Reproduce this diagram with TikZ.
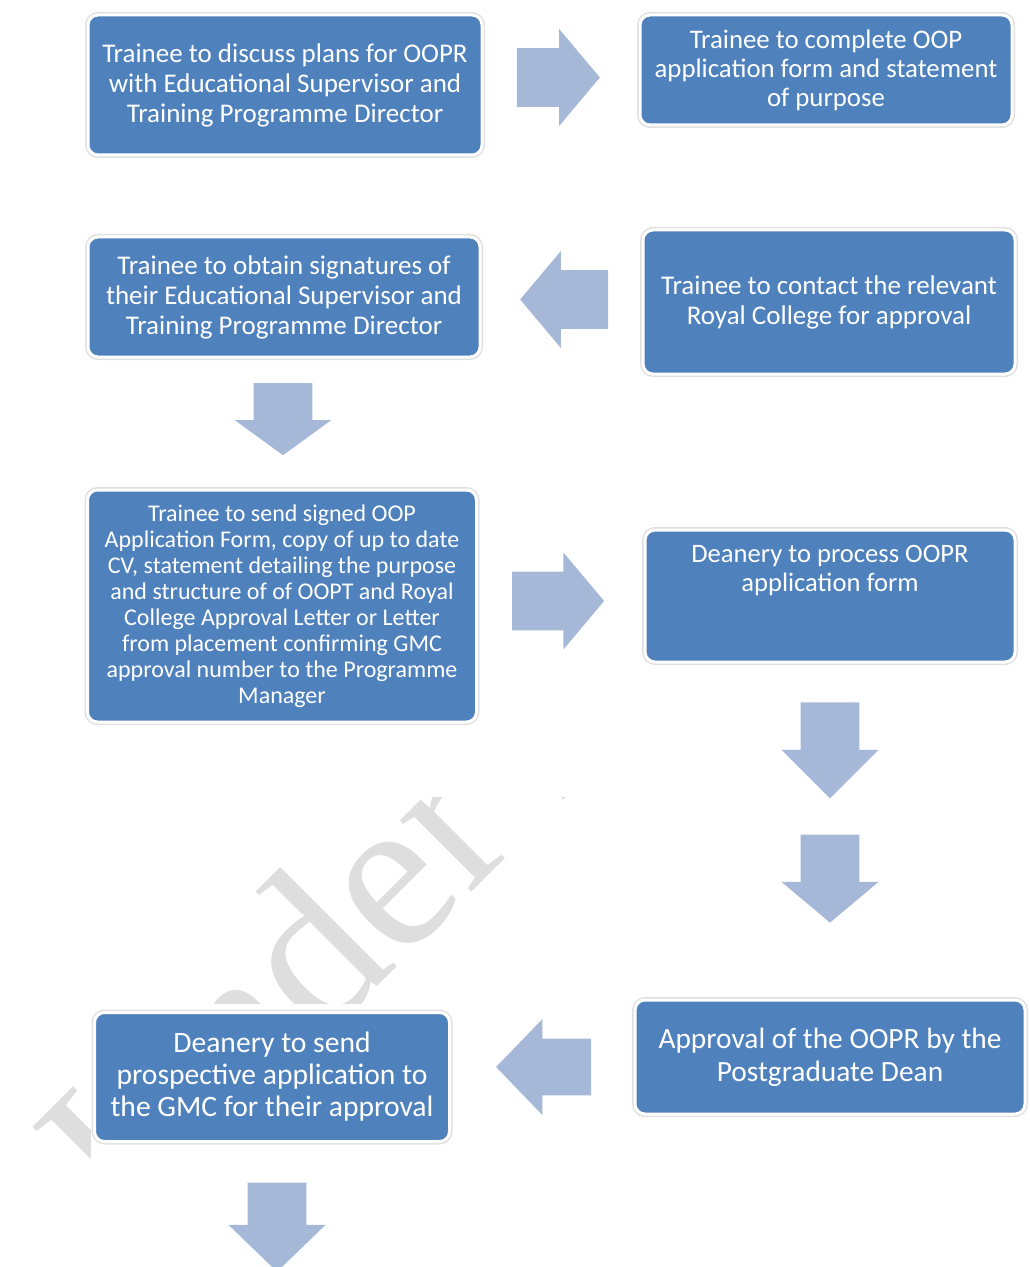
\documentclass[tikz,border=0pt]{standalone}
\usepackage{fontspec}
\setmainfont{Carlito}
\newfontfamily\markfont{Liberation Serif}
\usetikzlibrary{shapes.arrows,calc}
\definecolor{boxblue}{RGB}{79,129,189}
\definecolor{arrowblue}{RGB}{166,184,216}
\definecolor{markgray}{RGB}{222,222,222}

\begin{document}
\begin{tikzpicture}[x=0.5pt,y=-0.5pt,
  stepbox/.style={rectangle,rounded corners=5pt,fill=boxblue,draw=white,line width=1.5pt,
    preaction={draw=black!12,line width=3pt},text=white,align=center,inner sep=0pt},
  steptext/.style={text=white,align=center,inner sep=0pt},
  blockarrow/.style={single arrow,fill=arrowblue,draw=none,inner xsep=0pt,inner ysep=14.5pt,
    minimum width=48pt,single arrow head extend=9.5pt,single arrow tip angle=100},
  back/.style={xshift=-7.5pt}]
\useasboundingbox (0,0) rectangle (1029,1267);

\begin{scope}
\clip (0,797) -- (1012,797) -- (1012,0) -- (1029,0) -- (1029,1003) -- (90,1003) -- (90,1267) -- (0,1267) -- cycle;
\node[anchor=base west,rotate=45,text=markgray,inner sep=0pt,font=\markfont\fontsize{110}{110}\selectfont] (mark) at (131,1233) {Under Review};
\end{scope}

\node[stepbox,minimum width=197pt,minimum height=70pt,font=\fontsize{13.5}{15}\selectfont] (discuss) at (285,85)
  {Trainee to discuss plans for OOPR\\with Educational Supervisor and\\Training Programme Director};
\node[stepbox,minimum width=186pt,minimum height=55pt,font=\fontsize{13.4}{14.5}\selectfont] (complete) at (826,70)
  {Trainee to complete OOP\\application form and statement\\of purpose};
\node[stepbox,minimum width=196pt,minimum height=60pt,font=\fontsize{13.5}{15}\selectfont] (signatures) at (284,297)
  {Trainee to obtain signatures of\\their Educational Supervisor and\\Training Programme Director};
\node[stepbox,minimum width=186pt,minimum height=72pt,font=\fontsize{13.5}{15}\selectfont] (college) at (829,302)
  {Trainee to contact the relevant\\Royal College for approval};
\node[stepbox,minimum width=194.5pt,minimum height=116pt,font=\fontsize{12}{13}\selectfont] (send) at (282,606)
  {Trainee to send signed OOP\\Application Form, copy of up to date\\CV, statement detailing the purpose\\and structure of of OOPT and Royal\\College Approval Letter or Letter\\from placement confirming GMC\\approval number to the Programme\\Manager};
\node[stepbox,minimum width=185pt,minimum height=66pt] (process) at (830,596) {};
\node[steptext,font=\fontsize{13.3}{14.5}\selectfont] (processtext) at ([yshift=12.5pt]process.center)
  {Deanery to process OOPR\\application form};
\node[stepbox,minimum width=195pt,minimum height=57pt,font=\fontsize{14.7}{16.5}\selectfont] (approval) at (830,1057)
  {Approval of the OOPR by the\\Postgraduate Dean};
\node[stepbox,minimum width=177.5pt,minimum height=64.5pt,font=\fontsize{14.8}{16}\selectfont] (gmc) at (272,1077)
  {Deanery to send\\prospective application to\\the GMC for their approval};

\node[blockarrow,minimum height=41.5pt,back] (a1) at ($(discuss.east)!0.5!(complete.west)$) {};
\node[blockarrow,minimum height=44pt,rotate=180,back] (a2) at ($(college.west)!0.5!(signatures.east)$) {};
\node[blockarrow,minimum height=36pt,rotate=-90,single arrow tip angle=108,back] (a3) at ($(signatures.south)!0.5!(send.north)$) {};
\node[blockarrow,minimum height=46pt,back] (a4) at ($(send.east)!0.5!(process.west)$) {};
\node[blockarrow,minimum height=48pt,rotate=-90,single arrow tip angle=90,back] (a5) at ($(process.south)!0.26!(approval.north)$) {};
\node[blockarrow,minimum height=44pt,rotate=-90,back] (a6) at ($(process.south)!0.65!(approval.north)$) {};
\node[blockarrow,minimum height=47.5pt,rotate=180,single arrow tip angle=92,inner ysep=13.5pt,back] (a7) at ($(approval.west)!0.5!(gmc.east)$) {};
\node[blockarrow,minimum height=44.5pt,rotate=-90,single arrow tip angle=92,back] (a8) at ([xshift=2.5pt,yshift=-42.5pt]gmc.south) {};
\end{tikzpicture}
\end{document}
